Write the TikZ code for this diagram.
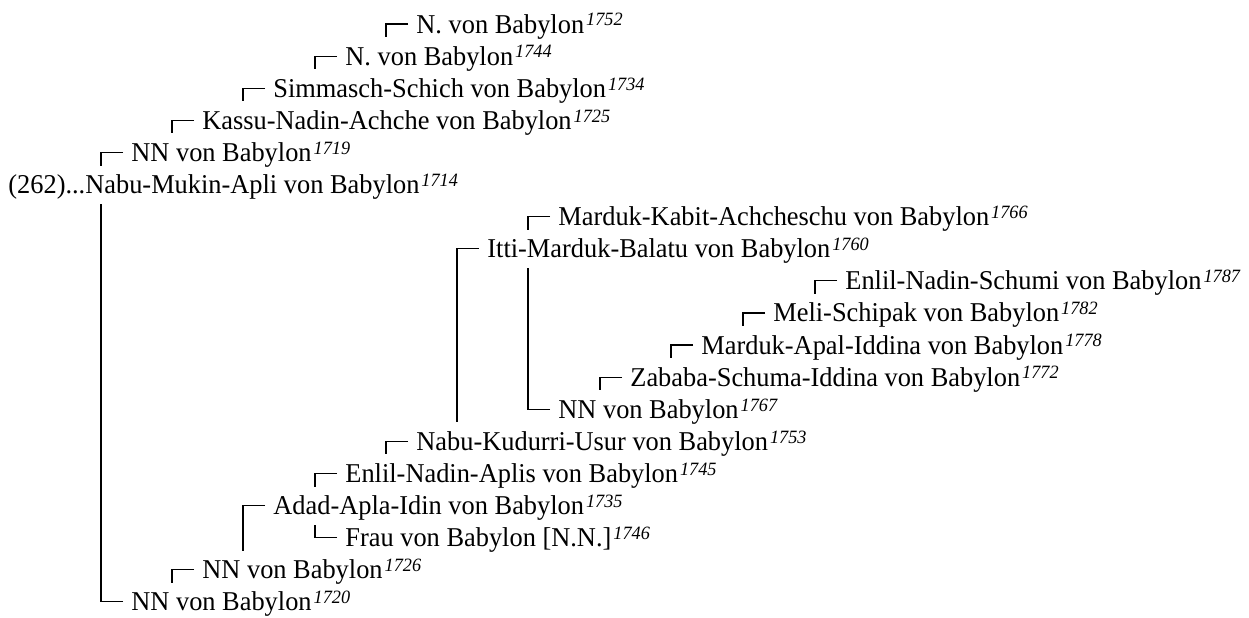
\documentclass[tikz,border=0pt]{standalone}
\usepackage{fontspec}
\setmainfont{Liberation Serif}[FakeStretch=0.97]
\usetikzlibrary{calc}
\newcommand\birthyr[1]{\kern1pt\raisebox{3.6pt}{\fontsize{9.4}{10}\selectfont\itshape #1}}
\newcommand\famlink[2]{\draw[link] ($(#1.base west)+(-8,-9)$) -- ++(-22,0) coordinate (k#1) -- (k#1 |- #2);}
\begin{document}
\begin{tikzpicture}[x=0.5pt,y=-0.5pt,
  person/.style={anchor=base west, inner sep=0pt, font=\fontsize{13.6}{16}\selectfont},
  link/.style={draw, line width=0.6pt}]
\useasboundingbox (0,0) rectangle (1249,617);
\node[person] (n1) at (416,33) {N. von Babylon\birthyr{1752}};
\node[person] (n2) at (345,65.1) {N. von Babylon\birthyr{1744}};
\node[person] (n3) at (273,97.2) {Simmasch-Schich von Babylon\birthyr{1734}};
\node[person] (n4) at (202,129.3) {Kassu-Nadin-Achche von Babylon\birthyr{1725}};
\node[person] (n5) at (131,161.4) {NN von Babylon\birthyr{1719}};
\node[person] (n6) at (8,193.5) {(262)...Nabu-Mukin-Apli von Babylon\birthyr{1714}};
\node[person] (n7) at (558,225.6) {Marduk-Kabit-Achcheschu von Babylon\birthyr{1766}};
\node[person] (n8) at (487,257.7) {Itti-Marduk-Balatu von Babylon\birthyr{1760}};
\node[person] (n9) at (845,289.8) {Enlil-Nadin-Schumi von Babylon\birthyr{1787}};
\node[person] (n10) at (773,321.9) {Meli-Schipak von Babylon\birthyr{1782}};
\node[person] (n11) at (701,354) {Marduk-Apal-Iddina von Babylon\birthyr{1778}};
\node[person] (n12) at (630,386.1) {Zababa-Schuma-Iddina von Babylon\birthyr{1772}};
\node[person] (n13) at (558,418.2) {NN von Babylon\birthyr{1767}};
\node[person] (n14) at (416,450.3) {Nabu-Kudurri-Usur von Babylon\birthyr{1753}};
\node[person] (n15) at (345,482.4) {Enlil-Nadin-Aplis von Babylon\birthyr{1745}};
\node[person] (n16) at (273,514.5) {Adad-Apla-Idin von Babylon\birthyr{1735}};
\node[person] (n17) at (345,546.6) {Frau von Babylon [N.N.]\birthyr{1746}};
\node[person] (n18) at (202,578.7) {NN von Babylon\birthyr{1726}};
\node[person] (n19) at (131,610.8) {NN von Babylon\birthyr{1720}};
% top ends of upward stubs (above parent text)
\foreach \i in {2,3,4,5,6,8,10,11,12,13,14,15,16,18,19}{
  \coordinate (u\i) at ($(n\i.base)+(0,-28)$);
}
% bottom starts of downward lines (below parent text)
\foreach \i in {6,8,16}{
  \coordinate (d\i) at ($(n\i.base)+(0,10)$);
}
\famlink{n1}{u2}
\famlink{n2}{u3}
\famlink{n3}{u4}
\famlink{n4}{u5}
\famlink{n5}{u6}
\famlink{n7}{u8}
\famlink{n8}{u14}
\famlink{n9}{u10}
\famlink{n10}{u11}
\famlink{n11}{u12}
\famlink{n12}{u13}
\famlink{n13}{d8}
\famlink{n14}{u15}
\famlink{n15}{u16}
\famlink{n16}{u18}
\famlink{n17}{d16}
\famlink{n18}{u19}
\famlink{n19}{d6}
\end{tikzpicture}
\end{document}
